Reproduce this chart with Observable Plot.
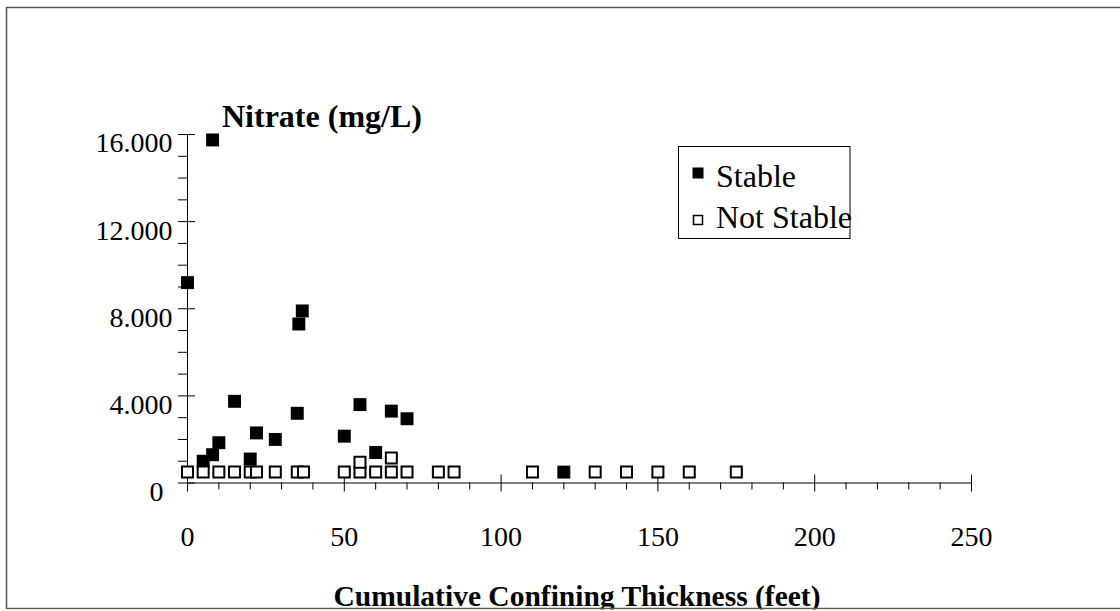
<!DOCTYPE html>
<html>
<head>
<meta charset="utf-8">
<script src="https://cdn.jsdelivr.net/npm/d3@7"></script>
<script src="https://cdn.jsdelivr.net/npm/@observablehq/plot@0.6"></script>
<style>
  html, body { margin: 0; padding: 0; background: #fff; }
  #chart svg { display: block; }
</style>
</head>
<body>
<div id="chart"></div>
<script>
// ---- Data ----
const stableThickness = [0, 8, 15, 35, 22, 28, 50, 55, 65, 70, 60, 10, 8, 5, 20, 35.5, 36.6, 120];
const stableNitrate   = [9.2, 15.75, 3.75, 3.2, 2.3, 2.0, 2.15, 3.6, 3.3, 2.95, 1.4, 1.85, 1.3, 1.0, 1.1, 7.3, 7.9, 0.5];

const notStableThickness = [0, 5, 10, 15, 20, 22, 28, 35, 37, 50, 55, 55, 60, 65, 65, 70, 80, 85, 110, 130, 140, 150, 160, 175];
const notStableNitrate   = [0.5, 0.5, 0.5, 0.5, 0.5, 0.5, 0.5, 0.5, 0.5, 0.5, 0.5, 0.95, 0.5, 0.5, 1.15, 0.5, 0.5, 0.5, 0.5, 0.5, 0.5, 0.5, 0.5, 0.5];

const xMajorTicks = [0, 50, 100, 150, 200, 250];
const xMinorTicks = d3.range(0, 251, 10).filter(v => v % 50 !== 0);
const yMajorTicks = [0, 4, 8, 12, 16];
const yTickLabels = ["0", "4.000", "8.000", "12.000", "16.000"];
const yMinorTicks = d3.range(0, 17, 1).filter(v => v % 4 !== 0);

const seriesNames = ["Stable", "Not Stable"];
const yTitle = "Nitrate (mg/L)";
const xTitle = "Cumulative Confining Thickness (feet)";

const stable = stableThickness.map((x, i) => ({x, y: stableNitrate[i]}));
const notStable = notStableThickness.map((x, i) => ({x, y: notStableNitrate[i]}));
const yLabelRows = yMajorTicks.map((v, i) => ({v, label: yTickLabels[i]}));

const FONT = "'Liberation Serif', 'Times New Roman', serif";
const W = 1120, H = 611;

const plot = Plot.plot({
  width: W,
  height: H,
  marginLeft: 187,
  marginRight: 149,
  marginTop: 134,
  marginBottom: 128.5,
  x: {domain: [0, 250], axis: null},
  y: {domain: [0, 16], axis: null},
  style: {fontFamily: FONT, background: "white", color: "black", overflow: "visible"},
  marks: [
    // axis lines
    Plot.ruleY([0], {stroke: "black", strokeWidth: 1}),
    Plot.ruleX([0], {stroke: "black", strokeWidth: 1}),
    // x ticks
    Plot.ruleX(xMinorTicks, {x: d => d, y1: 0, y2: 0, insetBottom: -7, stroke: "black"}),
    Plot.ruleX(xMajorTicks, {x: d => d, y1: 0, y2: 0, insetTop: -8, insetBottom: -9, stroke: "black"}),
    // y ticks
    Plot.ruleY(yMinorTicks, {y: d => d, x1: 0, x2: 0, insetLeft: -9, stroke: "black"}),
    Plot.ruleY(yMajorTicks, {y: d => d, x1: 0, x2: 0, insetLeft: -9, insetRight: -8, stroke: "black"}),
    // x tick labels
    Plot.text(xMajorTicks, {x: d => d, y: 0, text: d => String(d), dy: 54, fontSize: 28, fill: "black"}),
    // y tick labels
    Plot.text(yLabelRows.filter(d => d.v !== 0), {x: 0, y: "v", text: "label", textAnchor: "end", dx: -15, dy: 9, fontSize: 28, fill: "black"}),
    Plot.text(yLabelRows.filter(d => d.v === 0), {x: 0, y: "v", text: "label", textAnchor: "end", dx: -24, dy: 9, fontSize: 28, fill: "black"}),
    // data
    Plot.dot(stable, {x: "x", y: "y", symbol: "square", r: 7.3, fill: "black", stroke: "none"}),
    Plot.dot(notStable, {x: "x", y: "y", symbol: "square", r: 6.2, fill: "white", stroke: "black", strokeWidth: 2})
  ]
});

document.getElementById("chart").appendChild(plot);

const svg = d3.select(plot);

// Y title
svg.append("text")
  .attr("x", 222).attr("y", 127)
  .attr("text-anchor", "start")
  .attr("font-family", FONT).attr("font-weight", "bold").attr("font-size", 32)
  .attr("fill", "black")
  .text(yTitle);

// X title
svg.append("text")
  .attr("x", 577).attr("y", 606)
  .attr("text-anchor", "middle")
  .attr("font-family", FONT).attr("font-weight", "bold").attr("font-size", 29.5)
  .attr("fill", "black")
  .text(xTitle);

// Legend
const lg = svg.append("g").attr("text-anchor", "start");
lg.append("rect")
  .attr("x", 678.5).attr("y", 146.5).attr("width", 171.5).attr("height", 92)
  .attr("fill", "none").attr("stroke", "black").attr("stroke-width", 1);
lg.append("rect")
  .attr("x", 692.5).attr("y", 167.5).attr("width", 11).attr("height", 11)
  .attr("fill", "black");
lg.append("rect")
  .attr("x", 693.5).attr("y", 215.5).attr("width", 9).attr("height", 9)
  .attr("fill", "white").attr("stroke", "black").attr("stroke-width", 1.5);
lg.append("text")
  .attr("x", 716).attr("y", 187)
  .attr("text-anchor", "start")
  .attr("font-family", FONT).attr("font-size", 32).attr("fill", "black")
  .text(seriesNames[0]);
lg.append("text")
  .attr("x", 716).attr("y", 228)
  .attr("text-anchor", "start")
  .attr("font-family", FONT).attr("font-size", 32).attr("fill", "black")
  .text(seriesNames[1]);

// Outer border
svg.append("rect")
  .attr("x", 6.5).attr("y", 7.5).attr("width", 1300).attr("height", 601)
  .attr("fill", "none").attr("stroke", "#555").attr("stroke-width", 1.5);
svg.append("rect")
  .attr("x", 0).attr("y", 609.5).attr("width", W).attr("height", 2)
  .attr("fill", "white");
</script>
</body>
</html>
